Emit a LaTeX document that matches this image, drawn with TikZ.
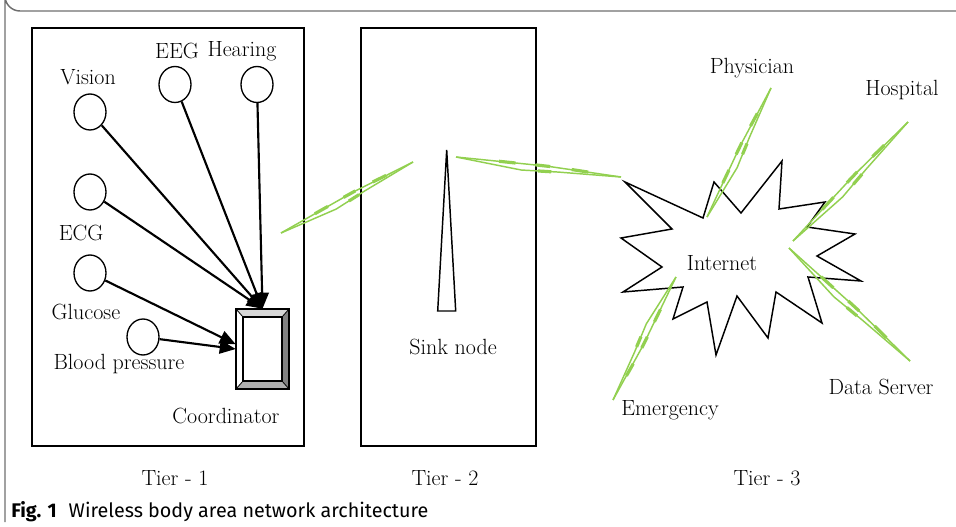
\documentclass[tikz,border=0pt]{standalone}
\usepackage{fontspec}
\newfontfamily\capfont{Fira Sans}
\usetikzlibrary{arrows.meta,calc,shapes.geometric}
\definecolor{linkgreen}{RGB}{146,208,80}
\definecolor{framegray}{RGB}{110,110,110}
\definecolor{bevellight}{RGB}{215,215,215}
\definecolor{bevelmid}{RGB}{175,175,175}
\definecolor{beveldark}{RGB}{130,130,130}

% wireless link drawn as a narrow double zig-zag with short thick strokes
\newcommand\wirelink[2]{%
  \draw[link] (#1) -- ($(#1)!0.55!(#2)!1.4pt!90:(#2)$) -- (#2);
  \draw[link] (#1) -- ($(#1)!0.40!(#2)!3.8pt!-90:(#2)$) -- ($(#1)!0.62!(#2)!2.0pt!-90:(#2)$) -- (#2);
  \draw[linkbar] ($(#1)!0.26!(#2)!0.7pt!90:(#2)$) -- ($(#1)!0.36!(#2)!0.9pt!90:(#2)$);
  \draw[linkbar] ($(#1)!0.48!(#2)!1.3pt!90:(#2)$) -- ($(#1)!0.57!(#2)!1.4pt!90:(#2)$);
  \draw[linkbar] ($(#1)!0.50!(#2)!3.0pt!-90:(#2)$) -- ($(#1)!0.58!(#2)!2.4pt!-90:(#2)$);
  \draw[linkbar] ($(#1)!0.70!(#2)!1.1pt!90:(#2)$) -- ($(#1)!0.80!(#2)!0.7pt!90:(#2)$);
}

\begin{document}
\begin{tikzpicture}[x=0.75pt,y=-0.75pt,
  lbl/.style={font=\fontsize{16.5}{19}\selectfont, inner sep=0pt},
  tierbox/.style={draw, line width=1.1pt},
  sensor/.style={draw, ellipse, line width=1pt, minimum width=24pt, minimum height=27pt, inner sep=0pt},
  arr/.style={line width=1.6pt, -{Triangle[length=12pt,width=10pt]}},
  link/.style={draw=linkgreen, line width=1.1pt, line join=round},
  linkbar/.style={draw=linkgreen, line width=2.4pt},
  coordbox/.style={minimum width=39.75pt, minimum height=60pt, inner sep=0pt}]

\useasboundingbox (0,0) rectangle (956,527);

% outer figure frame
\draw[framegray, line width=1.1pt] (956,11) -- (20,11) arc[start angle=90, end angle=180, radius=15] -- (5,522);

% tier boxes
\draw[tierbox] (32,28) rectangle (304,446);
\draw[tierbox] (361,28) rectangle (536,446);

% sensors
\node[sensor] (vision)  at (90,112) {};
\node[sensor] (eeg)     at (175,84.5) {};
\node[sensor] (hearing) at (257,84.5) {};
\node[sensor] (ecg)     at (90,192) {};
\node[sensor] (glucose) at (90,273) {};
\node[sensor] (bp)      at (143,337) {};

\node[lbl] (visionlbl)  at (88,77) {Vision};
\node[lbl] (eeglbl)     at (177,51) {EEG};
\node[lbl] (hearinglbl) at (242,51) {Hearing};
\node[lbl] (ecglbl)     at (81,233) {ECG};
\node[lbl] (glucoselbl) at (86,312) {Glucose};
\node[lbl] (bplbl)      at (119,364) {Blood pressure};

% coordinator with bevelled frame
\node[coordbox] (coord) at (262.5,349) {};
\fill[bevellight] (236,309) -- (289,309) -- (282,317) -- (243,317) -- cycle;
\fill[white] (236,309) -- (243,317) -- (243,381) -- (236,389) -- cycle;
\fill[beveldark] (289,309) -- (289,389) -- (282,381) -- (282,317) -- cycle;
\fill[bevelmid] (236,389) -- (289,389) -- (282,381) -- (243,381) -- cycle;
\draw[line width=0.6pt] (236,309) -- (243,317) (289,309) -- (282,317)
  (236,389) -- (243,381) (289,389) -- (282,381);
\draw[line width=1pt, fill=white] (243,317) rectangle (282,381);
\draw[line width=1.2pt] (236,309) rectangle (289,389);
\node[lbl] (coordlbl) at (226,416) {Coordinator};

% sensor links to the coordinator
\draw[arr] (vision)  -- (coord.north);
\draw[arr] (ecg)     -- (coord.north);
\draw[arr] (eeg)     -- (coord.north);
\draw[arr] (hearing) -- (coord.north);
\draw[arr] (glucose) -- (coord.170);
\draw[arr] (bp)      -- (coord.west);

% sink node antenna
\coordinate (sinktop) at (446.7,150);
\draw[line width=1.1pt, line join=miter] (sinktop) -- (455.7,311) -- (437.7,311) -- cycle;
\node[lbl] (sinklbl) at (453,347) {Sink node};

% internet cloud
\draw[line width=1.1pt, line join=miter]
  (625,182) -- (703,218) -- (714,182) -- (741,213) -- (782,161) -- (779,209)
  -- (825,202) -- (807,227) -- (855,234) -- (817,256) -- (861,281) -- (808,277)
  -- (822,323) -- (776,292) -- (768,338) -- (737,296) -- (716,355) -- (707,302)
  -- (673,319) -- (683,287) -- (623,292) -- (662,267) -- (621,238) -- (672,229)
  -- cycle;
\node[lbl] (internet) at (722,263) {Internet};

% remote parties
\node[lbl] (physician) at (752,68)  {Physician};
\node[lbl] (hospital)  at (902,90)  {Hospital};
\node[lbl] (dataserver) at (881,387) {Data Server};
\node[lbl] (emergency) at (670,410) {Emergency};

% wireless link end points
\coordinate (w1a) at (281,233);  \coordinate (w1b) at (413,162);
\coordinate (w2a) at (456,157);  \coordinate (w2b) at (621,177);
\coordinate (w3a) at (707,217);  \coordinate (w3b) at (771,88);
\coordinate (w4a) at (793,241);  \coordinate (w4b) at (908,122);
\coordinate (w5a) at (789,248);  \coordinate (w5b) at (910,361);
\coordinate (w6a) at (676,277);  \coordinate (w6b) at (613,400);

\wirelink{w1a}{w1b}
\wirelink{w2a}{w2b}
\wirelink{w3a}{w3b}
\wirelink{w4a}{w4b}
\wirelink{w5a}{w5b}
\wirelink{w6a}{w6b}

% tier captions
\node[lbl] (tier1) at (175,478) {Tier - 1};
\node[lbl] (tier2) at (445,478) {Tier - 2};
\node[lbl] (tier3) at (767,478) {Tier - 3};

% figure caption
\node[anchor=west, inner sep=0pt, font=\capfont\fontsize{14.8}{17}\selectfont] (caption) at (11,512)
  {\textbf{Fig. 1}\hspace{0.6em}Wireless body area network architecture};

\end{tikzpicture}
\end{document}
